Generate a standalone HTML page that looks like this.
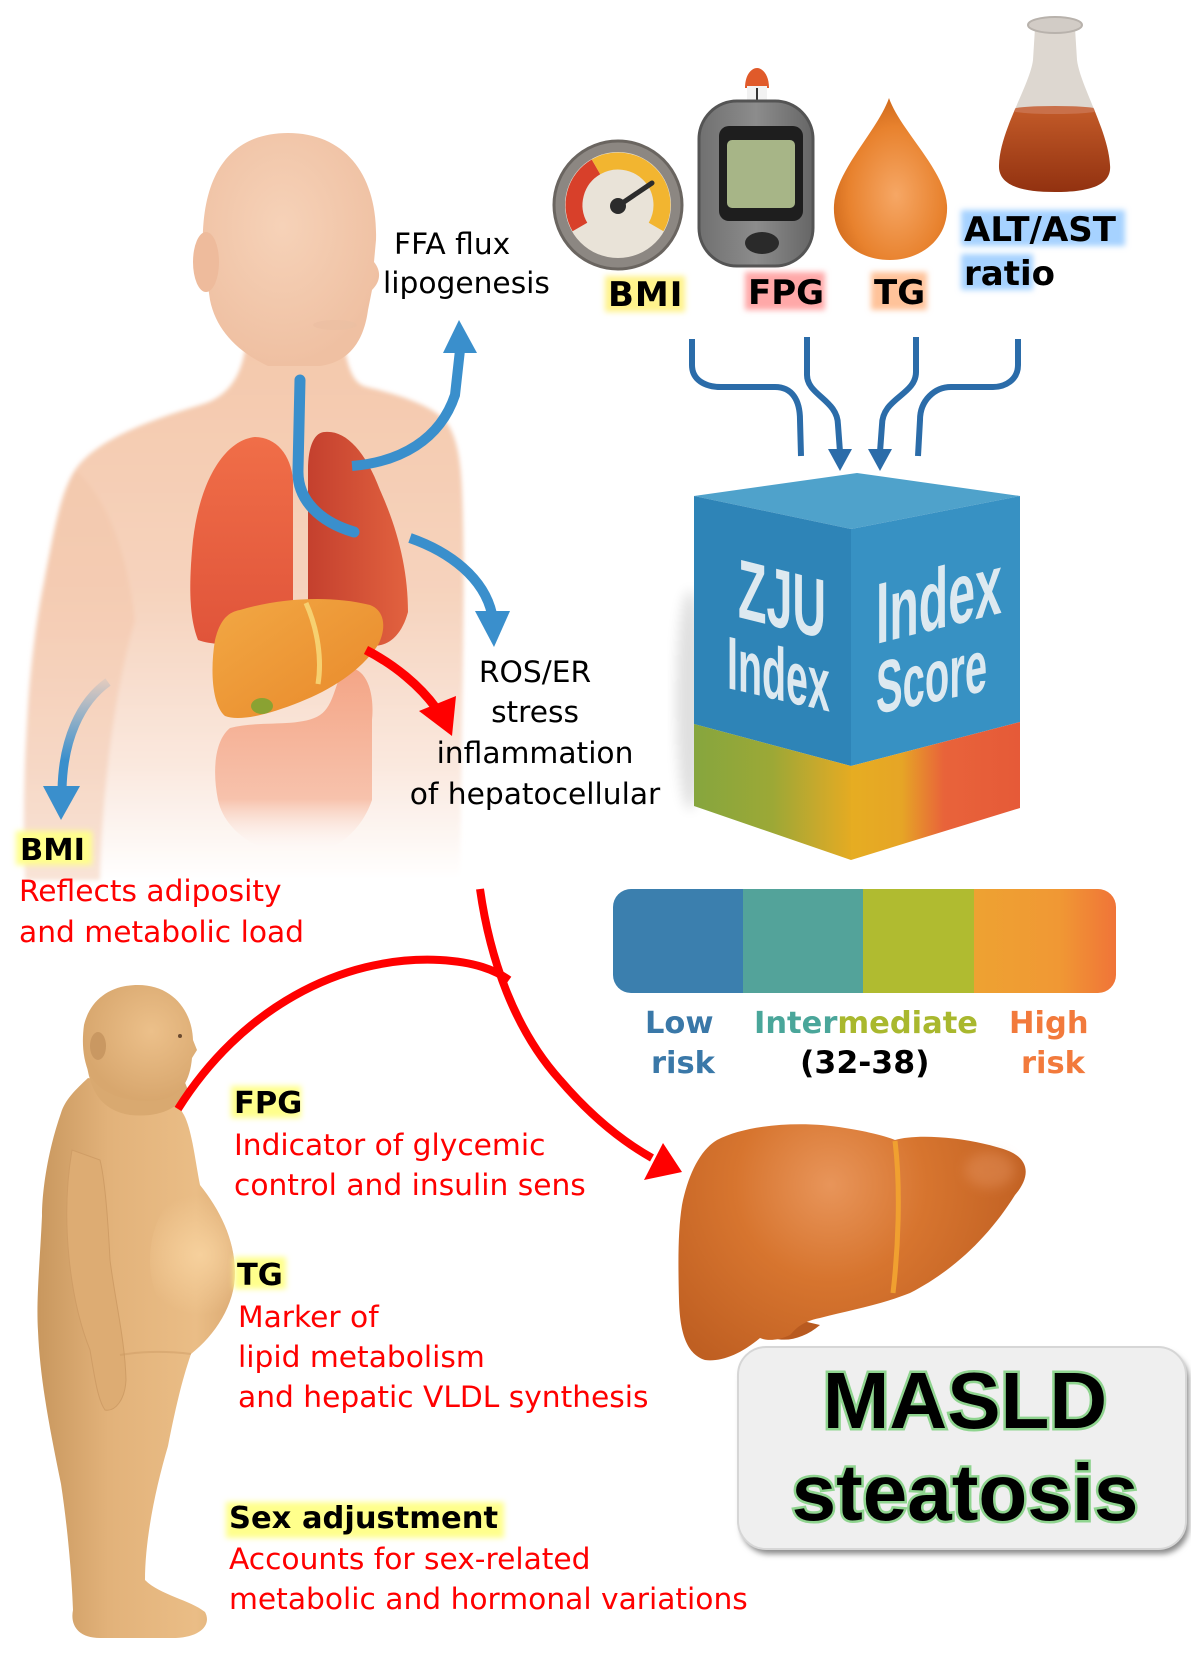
<!DOCTYPE html>
<html><head><meta charset="utf-8">
<style>
html,body{margin:0;padding:0;background:#fff;}
svg{display:block;}
.n{font-family:"DejaVu Sans","Liberation Sans",sans-serif;font-size:29.7px;fill:#000;}
.r{fill:#ff0000;}
.b{font-weight:bold;font-size:30.5px;}
.t{font-family:"DejaVu Sans","Liberation Sans",sans-serif;font-weight:bold;font-size:34px;fill:#000;}
.cube{font-family:"Liberation Sans",sans-serif;font-weight:bold;fill:#dde9f0;}
.big{font-family:"Liberation Sans",sans-serif;font-weight:bold;font-size:80px;fill:#000;stroke:#8fd48f;stroke-width:5px;paint-order:stroke;text-anchor:middle;}
</style></head>
<body>
<svg width="1191" height="1663" viewBox="0 0 1191 1663" xmlns="http://www.w3.org/2000/svg">
<defs>
  <filter id="bl2" x="-20%" y="-20%" width="140%" height="140%"><feGaussianBlur stdDeviation="2"/></filter>
  <filter id="bl3" x="-20%" y="-20%" width="140%" height="140%"><feGaussianBlur stdDeviation="3"/></filter>
  <filter id="bl6" x="-30%" y="-30%" width="160%" height="160%"><feGaussianBlur stdDeviation="6"/></filter>
  <linearGradient id="skin" gradientUnits="userSpaceOnUse" x1="0" y1="355" x2="0" y2="880">
    <stop offset="0" stop-color="#f4c9ad"/>
    <stop offset="0.45" stop-color="#f6d3bd"/>
    <stop offset="0.78" stop-color="#fae8de"/>
    <stop offset="1" stop-color="#ffffff"/>
  </linearGradient>
  <radialGradient id="head" cx="0.45" cy="0.4" r="0.6">
    <stop offset="0" stop-color="#f6d2b8"/>
    <stop offset="1" stop-color="#efc0a2"/>
  </radialGradient>
  <linearGradient id="lungL" x1="0" y1="0" x2="0" y2="1">
    <stop offset="0" stop-color="#f06e48"/>
    <stop offset="1" stop-color="#e0543a"/>
  </linearGradient>
  <linearGradient id="lungR" x1="0" y1="0" x2="1" y2="0">
    <stop offset="0" stop-color="#c4402e"/>
    <stop offset="1" stop-color="#e2623f"/>
  </linearGradient>
  <linearGradient id="livS" x1="0" y1="0" x2="1" y2="1">
    <stop offset="0" stop-color="#f2a844"/>
    <stop offset="1" stop-color="#e8882a"/>
  </linearGradient>
  <linearGradient id="intest" x1="0" y1="0" x2="0" y2="1">
    <stop offset="0" stop-color="#f4a586"/>
    <stop offset="0.7" stop-color="#f7c2ac"/>
    <stop offset="1" stop-color="#ffffff" stop-opacity="0"/>
  </linearGradient>
  <linearGradient id="fadeBlue" gradientUnits="userSpaceOnUse" x1="0" y1="680" x2="0" y2="760">
    <stop offset="0" stop-color="#3a8fcc" stop-opacity="0.1"/>
    <stop offset="1" stop-color="#3a8fcc"/>
  </linearGradient>
  <linearGradient id="fat" gradientUnits="userSpaceOnUse" x1="40" y1="0" x2="235" y2="0">
    <stop offset="0" stop-color="#c9985f"/>
    <stop offset="0.35" stop-color="#e2b27a"/>
    <stop offset="0.8" stop-color="#eabd86"/>
    <stop offset="1" stop-color="#dcab74"/>
  </linearGradient>
  <radialGradient id="belly" gradientUnits="userSpaceOnUse" cx="200" cy="1255" r="60">
    <stop offset="0" stop-color="#f6d09c"/>
    <stop offset="1" stop-color="#f6d09c" stop-opacity="0"/>
  </radialGradient>
  <radialGradient id="fhead" cx="0.6" cy="0.4" r="0.6">
    <stop offset="0" stop-color="#ecc08a"/>
    <stop offset="1" stop-color="#d8a76e"/>
  </radialGradient>
  <radialGradient id="liver" gradientUnits="userSpaceOnUse" cx="830" cy="1185" r="210">
    <stop offset="0" stop-color="#e8955a"/>
    <stop offset="0.45" stop-color="#d7752f"/>
    <stop offset="1" stop-color="#bf5f22"/>
  </radialGradient>
  <radialGradient id="drop" cx="0.55" cy="0.6" r="0.6">
    <stop offset="0" stop-color="#f6a765"/>
    <stop offset="0.7" stop-color="#e8822e"/>
    <stop offset="1" stop-color="#d06a1c"/>
  </radialGradient>
  <linearGradient id="liq" x1="0" y1="0" x2="0" y2="1">
    <stop offset="0" stop-color="#c25a28"/>
    <stop offset="1" stop-color="#8e2e0e"/>
  </linearGradient>
  <linearGradient id="meter" x1="0" y1="0" x2="1" y2="0">
    <stop offset="0" stop-color="#707070"/>
    <stop offset="0.5" stop-color="#8c8c8c"/>
    <stop offset="1" stop-color="#666"/>
  </linearGradient>
  <linearGradient id="bandL" gradientUnits="userSpaceOnUse" x1="694" y1="0" x2="851" y2="0">
    <stop offset="0" stop-color="#86a63e"/>
    <stop offset="0.5" stop-color="#9ca836"/>
    <stop offset="0.8" stop-color="#c9a92c"/>
    <stop offset="1" stop-color="#e4ab22"/>
  </linearGradient>
  <linearGradient id="bandR" gradientUnits="userSpaceOnUse" x1="851" y1="0" x2="1020" y2="0">
    <stop offset="0" stop-color="#e6ad22"/>
    <stop offset="0.3" stop-color="#e6a526"/>
    <stop offset="0.55" stop-color="#e8633a"/>
    <stop offset="1" stop-color="#e65a38"/>
  </linearGradient>
  <linearGradient id="hiR" gradientUnits="userSpaceOnUse" x1="974" y1="0" x2="1116" y2="0">
    <stop offset="0" stop-color="#eea232"/>
    <stop offset="0.6" stop-color="#f09834"/>
    <stop offset="1" stop-color="#f07438"/>
  </linearGradient>
  <clipPath id="barClip"><rect x="613" y="889" width="503" height="104" rx="18"/></clipPath>
  <clipPath id="flaskClip"><path d="M1035,28 L1033,60 C1030,85 1000,130 999,165 C998,185 1020,192 1055,192 C1090,192 1112,185 1110,165 C1108,130 1080,85 1077,60 L1075,28 Z"/></clipPath>
  <clipPath id="fatClip"><path id="fatPath" d="M88,1078 C75,1090 65,1100 61,1113 C48,1150 42,1190 42,1216 C40,1260 36,1300 38,1331 C40,1380 50,1430 61,1484 C68,1530 72,1580 73,1610 C70,1625 78,1638 100,1638 L176,1638 C200,1637 212,1625 205,1612 C190,1600 160,1595 145,1580 C145,1540 155,1490 168,1446 C175,1410 182,1380 191,1354 C215,1335 235,1305 235,1273 C235,1240 220,1210 200,1185 C195,1160 192,1130 184,1115 C180,1108 175,1100 170,1095 Z"/></clipPath>
</defs>

<!-- ============ TOP-LEFT HUMAN TORSO ============ -->
<g filter="url(#bl2)">
  <path d="M245,350 L345,350 C350,378 358,385 367,387 C400,395 430,405 445,420 C460,440 462,470 463,520 C465,600 462,700 460,880 L22,880 C22,760 30,650 45,580 C55,520 62,490 75,470 C95,440 150,420 200,405 C225,398 240,380 245,350 Z" fill="url(#skin)"/>
  <path d="M75,470 C55,520 35,600 28,700 C24,780 24,830 25,880 L100,880 C102,800 112,700 135,620 C128,560 110,500 75,470 Z" fill="#f1c4a6" opacity="0.45"/>
</g>
<!-- head -->
<path d="M288,133 C345,133 378,175 376,240 L374,262 C382,272 380,282 372,290 L368,310 C364,340 350,362 320,366 L268,366 C238,352 216,330 210,300 L203,252 C200,172 232,133 288,133 Z" fill="url(#head)"/>
<ellipse cx="206" cy="262" rx="13" ry="30" fill="#eebb9c"/>
<ellipse cx="335" cy="325" rx="22" ry="5" fill="#ebbfa2" opacity="0.7"/>

<!-- intestines -->
<path d="M345,668 C365,665 375,690 372,720 L372,800 C360,835 330,855 300,855 C260,855 225,832 218,800 C212,770 215,740 230,728 C260,720 300,728 320,715 C335,705 335,680 345,668 Z" fill="url(#intest)"/>

<!-- lungs -->
<path d="M255,437 C225,440 200,480 193,540 C188,590 190,620 198,640 C230,652 270,632 293,615 L293,480 C291,455 276,437 255,437 Z" fill="url(#lungL)"/>
<path d="M325,432 C345,430 365,450 380,490 C398,530 408,570 408,612 C400,642 380,652 360,642 C340,632 320,620 308,600 L308,470 C308,445 315,432 325,432 Z" fill="url(#lungR)"/>

<!-- liver in torso -->
<path d="M240,610 C280,598 330,595 370,605 C386,611 386,630 378,645 C360,672 330,690 300,702 C270,714 240,722 225,716 C212,705 210,670 215,640 C220,620 228,612 240,610 Z" fill="url(#livS)"/>
<path d="M306,603 C318,630 322,660 318,684" fill="none" stroke="#f6d070" stroke-width="5"/>
<ellipse cx="262" cy="706" rx="11" ry="8" fill="#8aa232"/>

<!-- blue arrows (torso) -->
<path d="M300,380 L298,470 C297,500 320,522 354,532" fill="none" stroke="#3a8fcc" stroke-width="11" stroke-linecap="round"/>
<path d="M352,466 C400,462 440,440 455,395 L460,350" fill="none" stroke="#3a8fcc" stroke-width="10"/>
<polygon points="443,353 477,353 459,320" fill="#3a8fcc"/>
<path d="M410,538 C450,552 484,578 492,614" fill="none" stroke="#3a8fcc" stroke-width="10"/>
<polygon points="475,611 510,611 494,647" fill="#3a8fcc"/>
<path d="M108,682 C80,702 63,740 62,790" fill="none" stroke="url(#fadeBlue)" stroke-width="9"/>
<polygon points="43,786 80,786 61,820" fill="#3a8fcc"/>

<!-- red arrow from liver -->
<path d="M366,650 C395,665 420,686 436,708" fill="none" stroke="#ff0000" stroke-width="9"/>
<polygon points="419,711 456,696 452,736" fill="#ff0000"/>

<!-- torso labels -->
<text x="394" y="254" class="n">FFA flux</text>
<text x="383" y="293" class="n">lipogenesis</text>
<g class="n" text-anchor="middle">
  <text x="535" y="682">ROS/ER</text>
  <text x="535" y="722">stress</text>
  <text x="535" y="763">inflammation</text>
  <text x="535" y="804">of hepatocellular</text>
</g>

<!-- ============ TOP-RIGHT ICONS ============ -->
<circle cx="618" cy="205" r="64" fill="#8c8782" stroke="#6a6560" stroke-width="3"/>
<circle cx="618" cy="205" r="53" fill="#e9e3d8"/>
<path d="M579.9,227 A44,44 0 0 1 596,166.9" fill="none" stroke="#d8402a" stroke-width="17"/>
<path d="M596,166.9 A44,44 0 0 1 656.1,227" fill="none" stroke="#f2b530" stroke-width="17"/>
<line x1="618" y1="206" x2="652" y2="183" stroke="#2c2c2c" stroke-width="5" stroke-linecap="round"/>
<circle cx="618" cy="206" r="8" fill="#2c2c2c"/>

<path d="M745,88 C745,74 752,68 757,68 C762,68 769,74 769,88 Z" fill="#e05a2a"/>
<rect x="747" y="86" width="20" height="20" fill="#f2f2f2"/>
<line x1="757" y1="88" x2="757" y2="100" stroke="#333" stroke-width="2"/>
<rect x="699" y="101" width="114" height="165" rx="38" fill="url(#meter)" stroke="#545454" stroke-width="3"/>
<rect x="719" y="126" width="84" height="95" rx="10" fill="#1e1e1e"/>
<rect x="727" y="140" width="68" height="68" rx="5" fill="#a7b587"/>
<ellipse cx="762" cy="243" rx="17" ry="11" fill="#2a2a2a"/>

<path d="M889,98 C900,130 945,170 947,205 C949,240 920,260 890,260 C858,260 832,240 834,205 C836,170 878,130 889,98 Z" fill="url(#drop)"/>

<path d="M1035,28 L1033,60 C1030,85 1000,130 999,165 C998,185 1020,192 1055,192 C1090,192 1112,185 1110,165 C1108,130 1080,85 1077,60 L1075,28 Z" fill="#ddd7d0"/>
<g clip-path="url(#flaskClip)">
  <rect x="990" y="109" width="130" height="90" fill="url(#liq)"/>
  <ellipse cx="1055" cy="110" rx="45" ry="4" fill="#c9704a"/>
</g>
<ellipse cx="1055" cy="25" rx="27" ry="8" fill="#d2ccc6" stroke="#b8b2ac" stroke-width="2"/>

<g filter="url(#bl3)">
  <rect x="605" y="276" width="80" height="36" fill="#fff38c"/>
  <rect x="745" y="272" width="80" height="38" fill="#ffa8a8"/>
  <rect x="871" y="272" width="56" height="38" fill="#ffc39a"/>
  <rect x="961" y="210" width="164" height="36" fill="#a6d2ff"/>
  <rect x="961" y="254" width="72" height="36" fill="#a6d2ff"/>
</g>
<text x="608" y="306" class="t" letter-spacing="1">BMI</text>
<text x="748" y="304" class="t" font-size="33">FPG</text>
<text x="874" y="304" class="t" font-size="33">TG</text>
<text x="964" y="241" class="t">ALT/AST</text>
<text x="964" y="285" class="t">ratio</text>

<g fill="none" stroke="#2b6ca9" stroke-width="6">
  <path d="M692,339 L692,365 C692,380 705,387 721,387 L775,387 C792,387 800,400 800,420 L801,456"/>
  <path d="M807,337 L807,375 C807,395 838,400 838,425 L840,452"/>
  <path d="M916,337 L916,372 C916,395 882,398 882,425 L880,452"/>
  <path d="M1018,339 L1018,365 C1018,380 1005,387 993,387 L951,387 C935,387 920,400 920,420 L918,456"/>
</g>
<polygon points="828,449 852,449 840,471" fill="#2b6ca9"/>
<polygon points="868,449 892,449 880,471" fill="#2b6ca9"/>

<!-- ============ CUBE ============ -->
<ellipse cx="690" cy="700" rx="14" ry="110" fill="#000" opacity="0.12" filter="url(#bl6)"/>
<polygon points="694,496 857,473 1020,496 851,529" fill="#4fa2cb"/>
<polygon points="694,496 851,529 851,766 694,724" fill="#2e84b7"/>
<polygon points="851,529 1020,496 1020,722 851,766" fill="#3791c3"/>
<polygon points="694,724 851,766 851,860 694,806" fill="url(#bandL)"/>
<polygon points="851,766 1020,722 1020,808 851,860" fill="url(#bandR)"/>
<text class="cube" font-size="84" transform="translate(738,617) skewY(14) scale(0.555,1)">ZJU</text>
<text class="cube" font-size="75" transform="translate(727,688) skewY(13) scale(0.525,1)">Index</text>
<text class="cube" font-size="86" transform="translate(876,644) skewY(-14) scale(0.56,1)">Index</text>
<text class="cube" font-size="74" transform="translate(876,714) skewY(-12) scale(0.54,1)">Score</text>

<!-- ============ RISK BAR ============ -->
<g clip-path="url(#barClip)">
  <rect x="613" y="889" width="131" height="104" fill="#3b7fae"/>
  <rect x="743" y="889" width="121" height="104" fill="#53a39a"/>
  <rect x="863" y="889" width="112" height="104" fill="#b0bb30"/>
  <rect x="974" y="889" width="142" height="104" fill="url(#hiR)"/>
</g>
<g class="n b">
  <text x="645" y="1033" fill="#3a78a8">Low</text>
  <text x="754" y="1033"><tspan fill="#4aa69a">Inter</tspan><tspan fill="#a9b82e">mediate</tspan></text>
  <text x="1009" y="1033" fill="#f27a3c">High</text>
  <text x="651" y="1073" fill="#3a78a8">risk</text>
  <text x="800" y="1073" fill="#000" font-size="31.5">(32-38)</text>
  <text x="1021" y="1073" fill="#f27a3c">risk</text>
</g>

<!-- ============ OBESE FIGURE ============ -->
<path d="M88,1078 C75,1090 65,1100 61,1113 C48,1150 42,1190 42,1216 C40,1260 36,1300 38,1331 C40,1380 50,1430 61,1484 C68,1530 72,1580 73,1610 C70,1625 78,1638 100,1638 L176,1638 C200,1637 212,1625 205,1612 C190,1600 160,1595 145,1580 C145,1540 155,1490 168,1446 C175,1410 182,1380 191,1354 C215,1335 235,1305 235,1273 C235,1240 220,1210 200,1185 C195,1160 192,1130 184,1115 C180,1108 175,1100 170,1095 Z" fill="url(#fat)"/>
<g clip-path="url(#fatClip)">
  <ellipse cx="195" cy="1260" rx="45" ry="70" fill="url(#belly)"/>
</g>
<path d="M72,1150 C60,1220 70,1300 90,1350 C95,1380 98,1400 105,1410 C115,1412 125,1400 126,1380 C125,1340 115,1300 110,1260 C108,1220 105,1180 100,1160 Z" fill="#ddac73" stroke="#cf9d66" stroke-width="1"/>
<path d="M120,1355 C150,1350 175,1352 191,1354" fill="none" stroke="#c8955f" stroke-width="2" opacity="0.4"/>
<!-- neck / jaw to blend head into body -->
<path d="M86,1060 C90,1090 100,1110 130,1115 C160,1118 180,1108 188,1090 L176,1060 Z" fill="#d9a970"/>
<path d="M138,985 C172,985 192,1010 193,1040 L197,1050 L192,1058 C190,1080 182,1096 160,1100 C130,1104 100,1095 90,1075 C82,1058 82,1040 84,1025 C90,1000 110,985 138,985 Z" fill="url(#fhead)"/>
<ellipse cx="98" cy="1046" rx="8" ry="14" fill="#c99862"/>
<circle cx="180" cy="1036" r="2" fill="#6a4a30"/>

<!-- ============ RED CURVES ============ -->
<path d="M480,889 C490,960 515,1030 560,1080 C590,1115 620,1140 652,1158" fill="none" stroke="#ff0000" stroke-width="8"/>
<polygon points="644,1180 663,1143 682,1172" fill="#ff0000"/>
<path d="M178,1109 C240,1010 340,955 440,960 C475,962 495,970 509,980" fill="none" stroke="#ff0000" stroke-width="8"/>

<!-- ============ BIG LIVER ============ -->
<path d="M760,1330 C775,1345 800,1342 820,1325 L790,1318 Z" fill="#b85a20"/>
<path d="M717,1140 C745,1125 800,1120 845,1128 C870,1132 885,1136 895,1140 C915,1134 960,1136 1000,1148 C1030,1156 1032,1175 1015,1195 C990,1235 955,1270 910,1293 C880,1305 850,1310 820,1318 C800,1322 795,1330 790,1335 C775,1342 765,1340 760,1338 C740,1355 720,1362 705,1360 C690,1355 680,1340 679,1300 C678,1260 678,1230 682,1205 C688,1175 700,1150 717,1140 Z" fill="url(#liver)"/>
<ellipse cx="990" cy="1170" rx="25" ry="18" fill="#eea070" opacity="0.35" filter="url(#bl6)"/>
<path d="M895,1141 C901,1190 898,1250 893,1293" fill="none" stroke="#f0a030" stroke-width="5"/>

<!-- ============ LEFT LABELS ============ -->
<g filter="url(#bl3)" fill="#ffff8c">
  <rect x="16" y="831" width="76" height="34"/>
  <rect x="231" y="1086" width="70" height="32"/>
  <rect x="234" y="1257" width="52" height="32"/>
  <rect x="226" y="1502" width="278" height="36"/>
</g>
<text x="20" y="860" class="n b">BMI</text>
<text x="19" y="901" class="n r">Reflects adiposity</text>
<text x="19" y="942" class="n r">and metabolic load</text>

<text x="234" y="1113" class="n b">FPG</text>
<text x="234" y="1155" class="n r">Indicator of glycemic</text>
<text x="234" y="1195" class="n r">control and insulin sens</text>

<text x="237" y="1285" class="n b">TG</text>
<text x="238" y="1327" class="n r">Marker of</text>
<text x="238" y="1367" class="n r">lipid metabolism</text>
<text x="238" y="1407" class="n r">and hepatic VLDL synthesis</text>

<text x="229" y="1528" class="n b">Sex adjustment</text>
<text x="229" y="1569" class="n r">Accounts for sex-related</text>
<text x="229" y="1609" class="n r">metabolic and hormonal variations</text>

<!-- ============ MASLD BOX ============ -->
<rect x="741" y="1352" width="448" height="202" rx="28" fill="#8a8a8a" filter="url(#bl3)"/>
<rect x="738" y="1347" width="448" height="202" rx="28" fill="#efefef" stroke="#d6d6d6" stroke-width="2"/>
<text x="965" y="1428" class="big">MASLD</text>
<text x="965" y="1520" class="big">steatosis</text>
</svg>
</body></html>
